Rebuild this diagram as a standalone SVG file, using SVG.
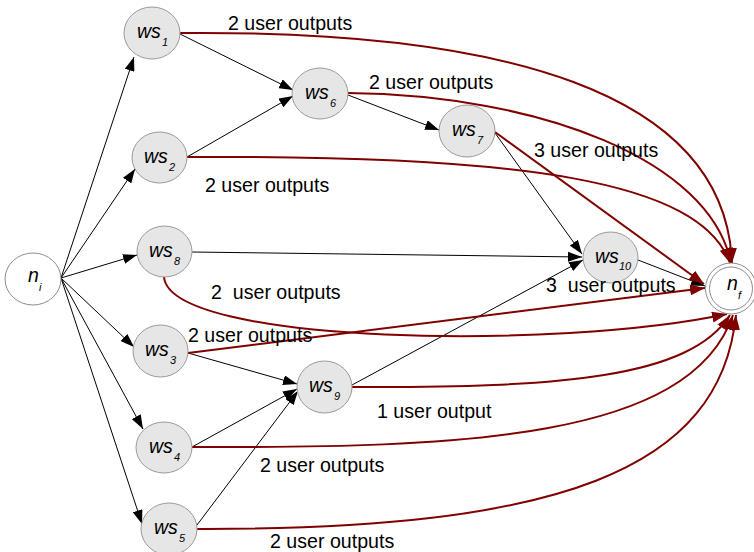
<svg xmlns="http://www.w3.org/2000/svg" width="754" height="552" viewBox="0 0 754 552">
  <style>
    .ws { fill: #e6e6e6; stroke: #9a9a9a; stroke-width: 1; }
    .end { fill: #ffffff; stroke: #8c8c8c; stroke-width: 1; }
    .nm { font-family: "Liberation Sans", Arial, sans-serif; font-style: italic; font-size: 19.5px; fill: #000; }
    .sb { font-family: "Liberation Sans", Arial, sans-serif; font-style: italic; font-size: 11px; fill: #000; }
    .flow { fill: none; stroke: #000; stroke-width: 1; marker-end: url(#ab); }
    .out { fill: none; stroke: #800000; stroke-width: 2; marker-end: url(#ar); }
    .lbl { font-family: "Liberation Sans", Arial, sans-serif; font-size: 19.6px; fill: #000; white-space: pre; }
  </style>
  <defs>
    <marker id="ab" viewBox="0 0 14 10" refX="14" refY="5" markerWidth="14" markerHeight="10" markerUnits="userSpaceOnUse" orient="auto">
      <path d="M0,0 L14,5 L0,10 z" fill="#000"/>
    </marker>
    <marker id="ar" viewBox="0 0 15 11" refX="15" refY="5.5" markerWidth="15" markerHeight="11" markerUnits="userSpaceOnUse" orient="auto">
      <path d="M0,0 L15,5.5 L0,11 z" fill="#800000"/>
    </marker>
  </defs>

  <rect width="754" height="552" fill="#ffffff"/>

  <g id="connectors">
    <!-- service-to-service flows -->
    <path class="flow" d="M61,278 L134,57"/>
    <path class="flow" d="M61,278 L135,169"/>
    <path class="flow" d="M61,278 L137,255"/>
    <path class="flow" d="M61,278 L134,347"/>
    <path class="flow" d="M61,278 L143,429"/>
    <path class="flow" d="M61,278 L142,524"/>
    <path class="flow" d="M180,34 L293,90"/>
    <path class="flow" d="M187,157 L293,96"/>
    <path class="flow" d="M348,95 L439,130"/>
    <path class="flow" d="M495,133 L582,254"/>
    <path class="flow" d="M192,252 L582,257"/>
    <path class="flow" d="M352,385 L583,260"/>
    <path class="flow" d="M638,260 L705,286"/>
    <path class="flow" d="M188,353 L297,384"/>
    <path class="flow" d="M192,447 L297,389"/>
    <path class="flow" d="M197,525 L298,391"/>
    <!-- user outputs to the final node -->
    <path class="out" d="M180,33 C500,30 725,90 732,263"/>
    <path class="out" d="M348,93 C540,95 710,160 731,263"/>
    <path class="out" d="M187,157 C520,155 700,180 730,263"/>
    <path class="out" d="M495,132 L704,284"/>
    <path class="out" d="M188,353 Q446,321 705,288"/>
    <path class="out" d="M164,277 C170,345 560,350 727,314"/>
    <path class="out" d="M352,387 C560,388 690,378 730,315"/>
    <path class="out" d="M192,447 C460,448 690,440 733,315"/>
    <path class="out" d="M197,529 C560,530 720,470 736,315"/>
  </g>

  <g id="n_i">
    <ellipse class="end" cx="33" cy="279" rx="28" ry="26"/>
    <text class="nm" x="28" y="282">n</text>
    <text class="sb" x="39" y="291">i</text>
  </g>
  <g id="ws1">
    <ellipse class="ws" cx="152" cy="33" rx="28" ry="26"/>
    <text class="nm" x="137" y="38">ws</text>
    <text class="sb" x="162" y="46">1</text>
  </g>
  <g id="ws2">
    <ellipse class="ws" cx="159.5" cy="157.5" rx="27.5" ry="25.5"/>
    <text class="nm" x="144" y="163">ws</text>
    <text class="sb" x="169" y="171">2</text>
  </g>
  <g id="ws6">
    <ellipse class="ws" cx="320" cy="93.5" rx="28" ry="25.5"/>
    <text class="nm" x="305" y="99">ws</text>
    <text class="sb" x="330" y="107">6</text>
  </g>
  <g id="ws7">
    <ellipse class="ws" cx="467" cy="131" rx="28" ry="26"/>
    <text class="nm" x="452" y="136">ws</text>
    <text class="sb" x="477" y="144">7</text>
  </g>
  <g id="ws8">
    <ellipse class="ws" cx="164.5" cy="251.5" rx="27.5" ry="25.5"/>
    <text class="nm" x="149" y="257">ws</text>
    <text class="sb" x="174" y="265">8</text>
  </g>
  <g id="ws3">
    <ellipse class="ws" cx="160.5" cy="351" rx="27.5" ry="26"/>
    <text class="nm" x="145" y="356">ws</text>
    <text class="sb" x="170" y="364">3</text>
  </g>
  <g id="ws9">
    <ellipse class="ws" cx="324.5" cy="387" rx="27.5" ry="26"/>
    <text class="nm" x="309" y="392">ws</text>
    <text class="sb" x="334" y="400">9</text>
  </g>
  <g id="ws4">
    <ellipse class="ws" cx="164" cy="447.5" rx="28" ry="25.5"/>
    <text class="nm" x="149" y="453">ws</text>
    <text class="sb" x="174" y="461">4</text>
  </g>
  <g id="ws5">
    <ellipse class="ws" cx="169" cy="529" rx="28" ry="26"/>
    <text class="nm" x="154" y="534">ws</text>
    <text class="sb" x="179" y="542">5</text>
  </g>
  <g id="ws10">
    <ellipse class="ws" cx="610.5" cy="257.5" rx="27.5" ry="25.5"/>
    <text class="nm" x="595" y="263">ws</text>
    <text class="sb" x="619" y="270">10</text>
  </g>
  <g id="n_f">
    <ellipse class="end" cx="731" cy="288.5" rx="25.5" ry="25.5"/>
    <ellipse class="end" cx="731" cy="288.5" rx="21.5" ry="21.5"/>
    <text class="nm" x="727" y="290">n</text>
    <text class="sb" x="738" y="299">f</text>
  </g>

  <g id="labels">
    <text class="lbl" x="228" y="30">2 user outputs</text>
    <text class="lbl" x="369" y="89">2 user outputs</text>
    <text class="lbl" x="534" y="157">3 user outputs</text>
    <text class="lbl" x="205" y="192">2 user outputs</text>
    <text class="lbl" x="211" y="299" xml:space="preserve">2  user outputs</text>
    <text class="lbl" x="546" y="292" xml:space="preserve">3  user outputs</text>
    <text class="lbl" x="188" y="342">2 user outputs</text>
    <text class="lbl" x="377" y="418">1 user output</text>
    <text class="lbl" x="260" y="472">2 user outputs</text>
    <text class="lbl" x="270" y="548">2 user outputs</text>
  </g>
</svg>
